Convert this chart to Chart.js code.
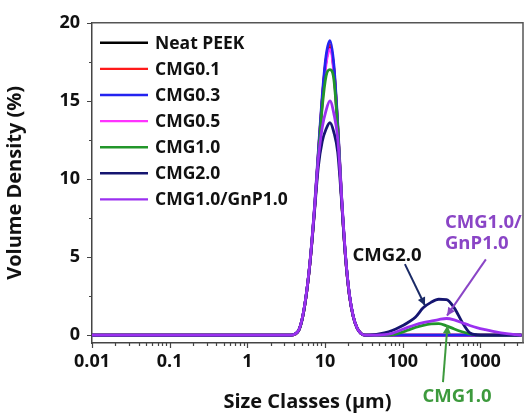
<!DOCTYPE html>
<html>
<head>
<meta charset="utf-8">
<script src="https://cdn.jsdelivr.net/npm/chart.js@4.4.1/dist/chart.umd.min.js"></script>
<style>
  html, body { margin: 0; padding: 0; background: #ffffff; }
  #wrap { width: 525px; height: 414px; position: relative; }
</style>
</head>
<body>
<div id="wrap"><canvas id="c" width="525" height="414"></canvas></div>
<script>
// ---- data ----
const sizeClasses = [0.01, 0.1, 1, 2,
  3.67, 4.12, 4.62, 5.18, 5.82, 6.53, 7.33, 8.22, 9.22, 10.34, 11.6, 13.0, 14.6, 16.4, 18.4, 20.6, 23.1, 25.9, 29.1, 32.7, 36.7,
  46.2, 58.2, 73.3, 92.2, 116, 146, 184, 232, 292, 367, 462, 582, 733, 922, 1161, 1462, 1841, 2317, 2917, 3400];

const neatPEEK = [0, 0, 0, 0,
  0, 0.07, 0.33, 1.20, 2.78, 5.03, 8.05, 11.58, 15.02, 17.56, 18.5, 17.02, 13.32, 8.70, 5.00, 2.59, 1.20, 0.46, 0.11, 0, 0,
  0, 0, 0, 0, 0, 0, 0, 0, 0, 0, 0, 0, 0, 0, 0, 0, 0, 0, 0, 0];
const cmg01 = [0, 0, 0, 0,
  0, 0.07, 0.33, 1.21, 2.79, 5.06, 8.09, 11.64, 15.10, 17.65, 18.6, 17.11, 13.39, 8.74, 5.02, 2.60, 1.21, 0.47, 0.11, 0, 0,
  0, 0, 0, 0, 0, 0, 0, 0, 0, 0, 0, 0, 0, 0, 0, 0, 0, 0, 0, 0];
const cmg03 = [0, 0, 0, 0,
  0, 0.08, 0.34, 1.23, 2.83, 5.13, 8.20, 11.80, 15.31, 17.89, 18.85, 17.34, 13.57, 8.86, 5.09, 2.64, 1.23, 0.47, 0.11, 0, 0,
  0, 0, 0, 0, 0, 0, 0, 0, 0, 0, 0, 0, 0, 0, 0, 0, 0, 0, 0, 0];
const cmg05 = [0, 0, 0, 0,
  0, 0.07, 0.33, 1.19, 2.75, 4.98, 7.96, 11.46, 14.86, 17.37, 18.3, 16.84, 13.18, 8.60, 4.94, 2.56, 1.19, 0.46, 0.11, 0, 0,
  0, 0, 0, 0, 0, 0, 0, 0, 0, 0, 0, 0, 0, 0, 0, 0, 0, 0, 0, 0];
const cmg10 = [0, 0, 0, 0,
  0, 0.07, 0.33, 1.20, 2.80, 5.05, 8.00, 11.40, 14.60, 16.60, 17.0, 16.40, 13.20, 8.60, 5.00, 2.60, 1.20, 0.46, 0.11, 0, 0,
  0, 0, 0.02, 0.15, 0.32, 0.5, 0.63, 0.72, 0.74, 0.6, 0.4, 0.22, 0.08, 0.01, 0, 0, 0, 0, 0, 0];
const cmg20 = [0, 0, 0, 0,
  0, 0.08, 0.34, 1.22, 2.80, 5.00, 7.90, 10.80, 12.40, 13.20, 13.6, 13.00, 11.70, 8.50, 5.00, 2.60, 1.20, 0.46, 0.11, 0, 0,
  0.05, 0.15, 0.3, 0.52, 0.8, 1.15, 1.75, 2.1, 2.3, 2.28, 1.75, 0.85, 0.15, 0.02, 0, 0, 0, 0, 0, 0];
const cmg10gnp10 = [0, 0, 0, 0,
  0, 0.08, 0.35, 1.25, 2.85, 5.10, 8.10, 11.30, 13.30, 14.40, 15.0, 14.20, 12.60, 8.80, 5.10, 2.65, 1.22, 0.47, 0.11, 0, 0,
  0, 0.03, 0.12, 0.3, 0.5, 0.67, 0.8, 0.9, 1.0, 1.07, 0.98, 0.8, 0.62, 0.47, 0.35, 0.24, 0.15, 0.08, 0.03, 0];

const seriesNames = ['Neat PEEK', 'CMG0.1', 'CMG0.3', 'CMG0.5', 'CMG1.0', 'CMG2.0', 'CMG1.0/GnP1.0'];
const seriesValues = [neatPEEK, cmg01, cmg03, cmg05, cmg10, cmg20, cmg10gnp10];
const seriesColors = ['#000000', '#ff1a1a', '#2323f0', '#ff33ff', '#22962a', '#151570', '#9b30f0'];
const drawOrder = [6, 5, 3, 4, 2, 1, 0];

const xTickValues = [0.01, 0.1, 1, 10, 100, 1000];
const xTickLabels = ['0.01', '0.1', '1', '10', '100', '1000'];
const yTickValues = [0, 5, 10, 15, 20];
const yTickLabels = ['0', '5', '10', '15', '20'];

const FONT = '"Open Sans", "Noto Sans", sans-serif';

const datasets = seriesNames.map((name, i) => ({
  label: name,
  data: sizeClasses.map((x, j) => ({ x: x, y: seriesValues[i][j] })),
  borderColor: seriesColors[i],
  backgroundColor: seriesColors[i],
  borderWidth: 2.8,
  pointRadius: 0,
  tension: 0.4,
  cubicInterpolationMode: 'monotone',
  fill: false,
  order: drawOrder[i]
}));

// annotation labels & arrows (positions in data space)
const annotations = [
  { text: 'CMG2.0', color: '#111111', x: 63, y: 5.07, align: 'center' },
  { text: 'CMG1.0/', color: '#8a45c6', x: 351, y: 7.23, align: 'left' },
  { text: 'GnP1.0', color: '#8a45c6', x: 351, y: 5.83, align: 'left' },
  { text: 'CMG1.0', color: '#3d9a3d', x: 501, y: -3.95, align: 'center' }
];
const arrows = [
  { color: '#1a2a66', x1: 107, y1: 4.55, x2: 194, y2: 1.9 },
  { color: '#8a45c6', x1: 1180, y1: 4.85, x2: 373, y2: 1.25 },
  { color: '#3d9a3d', x1: 331, y1: -3.0, x2: 378, y2: 0.62 }
];

const decorPlugin = {
  id: 'decor',
  afterDraw(chart) {
    const ctx = chart.ctx;
    const xs = chart.scales.x, ys = chart.scales.y;
    const a = chart.chartArea;
    ctx.save();
    // frame top & right
    ctx.strokeStyle = '#555555';
    ctx.lineWidth = 1.5;
    ctx.beginPath();
    ctx.moveTo(a.left, a.top); ctx.lineTo(a.right, a.top); ctx.lineTo(a.right, a.bottom);
    ctx.stroke();
    // x ticks
    ctx.strokeStyle = '#444444';
    ctx.lineWidth = 1.2;
    ctx.beginPath();
    xTickValues.forEach(d => {
      for (let m = 1; m <= 9; m++) {
        const v = d * m;
        if (v > xs.max) break;
        const px = Math.round(xs.getPixelForValue(v)) + 0.5;
        const len = m === 1 ? 5 : 3;
        ctx.moveTo(px, a.bottom); ctx.lineTo(px, a.bottom + len);
      }
    });
    // y ticks
    for (let v = 0; v <= 20; v += 2.5) {
      const py = Math.round(ys.getPixelForValue(v)) + 0.5;
      const len = (v % 5 === 0) ? 5 : 3;
      ctx.moveTo(a.left, py); ctx.lineTo(a.left - len, py);
    }
    ctx.stroke();

    // legend
    const lx0 = a.left + 8, lx1 = a.left + 56, tx = a.left + 63;
    const ly0 = a.top + 20, dy = 26.1;
    ctx.font = 'bold 17.5px ' + FONT;
    ctx.textBaseline = 'middle';
    ctx.textAlign = 'left';
    seriesNames.forEach((n, i) => {
      const y = ly0 + i * dy;
      ctx.strokeStyle = seriesColors[i];
      ctx.lineWidth = 2.4;
      ctx.beginPath(); ctx.moveTo(lx0, y); ctx.lineTo(lx1, y); ctx.stroke();
      ctx.fillStyle = '#111111';
      ctx.fillText(n, tx, y + 1);
    });

    // arrows
    arrows.forEach(ar => {
      const x1 = xs.getPixelForValue(ar.x1), y1 = ys.getPixelForValue(ar.y1);
      const x2 = xs.getPixelForValue(ar.x2), y2 = ys.getPixelForValue(ar.y2);
      ctx.strokeStyle = ar.color; ctx.fillStyle = ar.color;
      ctx.lineWidth = 2;
      ctx.beginPath(); ctx.moveTo(x1, y1); ctx.lineTo(x2, y2); ctx.stroke();
      const ang = Math.atan2(y2 - y1, x2 - x1);
      const h = 8, w = 4;
      ctx.beginPath();
      ctx.moveTo(x2, y2);
      ctx.lineTo(x2 - h * Math.cos(ang) + w * Math.sin(ang), y2 - h * Math.sin(ang) - w * Math.cos(ang));
      ctx.lineTo(x2 - h * Math.cos(ang) - w * Math.sin(ang), y2 - h * Math.sin(ang) + w * Math.cos(ang));
      ctx.closePath(); ctx.fill();
    });
    // annotation texts
    ctx.font = 'bold 18.5px ' + FONT;
    ctx.textBaseline = 'middle';
    annotations.forEach(an => {
      ctx.fillStyle = an.color;
      ctx.textAlign = an.align;
      ctx.fillText(an.text, xs.getPixelForValue(an.x), ys.getPixelForValue(an.y));
    });
    ctx.restore();
  }
};

new Chart(document.getElementById('c'), {
  type: 'line',
  data: { datasets: datasets },
  options: {
    responsive: false,
    animation: false,
    events: [],
    layout: { padding: { top: 20, right: 2, left: 0, bottom: 0 } },
    plugins: { legend: { display: false }, tooltip: { enabled: false } },
    scales: {
      x: {
        type: 'logarithmic',
        min: 0.01,
        max: 3550,
        afterBuildTicks: (s) => { s.ticks = xTickValues.map(v => ({ value: v })); },
        afterFit: (s) => { s.height = 71; },
        ticks: {
          autoSkip: false, maxRotation: 0, padding: 8, color: '#111111',
          font: { family: FONT, size: 18, weight: 'bold' },
          callback: (v) => { const i = xTickValues.indexOf(v); return i >= 0 ? xTickLabels[i] : ''; }
        },
        grid: { display: true, drawOnChartArea: false, drawTicks: false },
        border: { display: true, color: '#444444', width: 1.5 },
        title: {
          display: true, text: 'Size Classes (µm)', color: '#111111',
          font: { family: FONT, size: 20, weight: 'bold' },
          padding: { top: 0, bottom: 0 }
        }
      },
      y: {
        min: -0.5,
        max: 20,
        afterBuildTicks: (s) => { s.ticks = yTickValues.map(v => ({ value: v })); },
        afterFit: (s) => { s.width = 92; },
        ticks: {
          padding: 12, color: '#111111',
          font: { family: FONT, size: 18, weight: 'bold' },
          callback: (v) => { const i = yTickValues.indexOf(v); return i >= 0 ? yTickLabels[i] : ''; }
        },
        grid: { display: true, drawOnChartArea: false, drawTicks: false },
        border: { display: true, color: '#444444', width: 1.5 },
        title: {
          display: true, text: 'Volume Density (%)', color: '#111111',
          font: { family: FONT, size: 20, weight: 'bold' },
          padding: { top: 3, bottom: 0 }
        }
      }
    }
  },
  plugins: [decorPlugin]
});
</script>
</body>
</html>
